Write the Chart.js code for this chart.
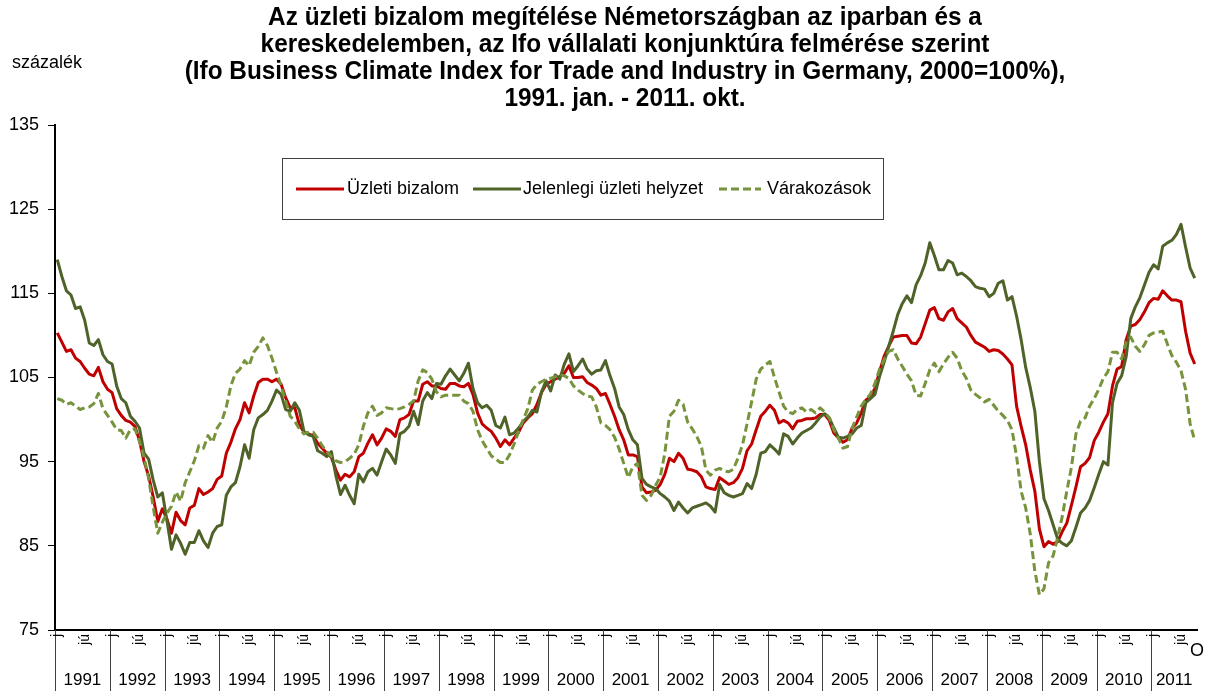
<!DOCTYPE html>
<html lang="hu">
<head>
<meta charset="UTF-8">
<title>Ifo üzleti bizalom</title>
<script src="https://cdn.jsdelivr.net/npm/chart.js"></script>
<style>
  body { margin: 0; background: #fff; }
  #wrap { width: 1208px; height: 691px; }
</style>
</head>
<body>
<div id="wrap"><canvas id="chart" width="1208" height="691"></canvas></div>
<script>
const years = ['1991','1992','1993','1994','1995','1996','1997','1998','1999','2000',
               '2001','2002','2003','2004','2005','2006','2007','2008','2009','2010','2011'];
const monthsInYear = [12,12,12,12,12,12,12,12,12,12,12,12,12,12,12,12,12,12,12,12,10];
const monthTags = ['j','','','','','','jú','','','','',''];
const lastTag = 'o';
const titleLines = [
  'Az üzleti bizalom megítélése Németországban az iparban és a',
  'kereskedelemben, az Ifo vállalati konjunktúra felmérése szerint',
  '(Ifo Business Climate Index for Trade and Industry in Germany, 2000=100%),',
  '1991. jan. - 2011. okt.'
];
const unitLabel = 'százalék';
const seriesNames = ['Üzleti bizalom', 'Jelenlegi üzleti helyzet', 'Várakozások'];
const seriesColors = ['#C00000', '#4F6228', '#77933C'];

// Üzleti bizalom (üzleti klíma)
const bizalom = [
  110.3,109.2,108.1,108.3,107.3,106.9,106.1,105.4,105.2,106.2,104.5,103.6,
  103.2,101.3,100.5,99.9,99.7,99.2,97.5,95.0,93.3,90.8,87.9,89.4,
  88.2,86.5,89.0,88.0,87.5,89.5,89.8,91.8,91.1,91.4,91.8,92.9,
  93.3,96.0,97.3,98.9,100.0,102.0,100.8,102.8,104.4,104.8,104.8,104.5,
  104.8,104.2,102.6,101.4,101.4,99.4,98.5,98.3,98.1,97.2,96.6,96.0,
  95.5,94.0,92.8,93.5,93.2,93.8,95.6,96.0,97.2,98.2,97.0,97.8,
  98.9,98.6,98.0,100.0,100.2,100.6,102.2,102.2,104.2,104.5,104.0,104.0,
  103.7,103.6,104.3,104.3,104.0,103.9,104.3,103.0,100.8,99.5,99.0,98.6,
  97.8,96.8,97.6,97.0,97.8,98.5,99.6,100.2,100.7,101.8,103.2,104.2,
  104.5,104.8,105.1,105.5,106.4,105.0,105.0,105.1,104.4,104.1,103.7,102.9,
  103.1,101.8,100.4,98.8,97.6,95.8,95.8,95.6,92.0,91.3,91.4,91.6,
  92.3,93.5,95.4,95.0,96.0,95.4,94.1,94.0,93.8,93.2,92.0,91.8,
  91.7,93.1,92.7,92.3,92.5,93.1,94.2,96.3,97.1,98.8,100.4,101.0,
  101.7,101.1,99.6,99.9,99.6,98.9,99.8,99.9,100.1,100.1,100.2,100.6,
  100.6,99.9,98.4,97.8,97.3,97.6,99.0,99.6,100.8,102.3,102.7,103.7,
  105.7,107.5,108.7,109.8,109.9,110.0,110.0,109.1,109.0,109.8,111.4,113.0,
  113.3,112.0,111.8,112.8,113.2,112.0,111.5,111.0,110.0,109.2,108.9,108.6,
  108.1,108.3,108.2,107.8,107.2,106.5,101.6,99.2,97.0,94.0,91.5,87.0,
  84.9,85.5,85.2,85.5,86.7,87.7,89.8,92.0,94.4,94.8,95.5,97.5,
  98.5,99.7,100.7,104.0,106.0,106.3,109.5,111.1,111.3,111.9,112.8,113.9,
  114.4,114.3,115.3,114.7,114.2,114.2,114.0,110.5,107.9,106.6
];
// Jelenlegi üzleti helyzet
const helyzet = [
  119.0,117.0,115.3,114.8,113.2,113.4,111.8,109.1,108.8,109.5,107.7,106.9,
  106.6,104.0,102.5,102.0,100.4,99.8,99.0,96.0,95.3,92.8,90.8,91.3,
  88.0,84.6,86.3,85.3,84.0,85.4,85.4,86.8,85.6,84.8,86.5,87.3,
  87.5,91.0,92.0,92.5,94.4,97.0,95.4,98.8,100.2,100.6,101.1,102.2,
  103.5,103.0,101.2,101.0,102.0,101.1,98.6,98.2,98.0,96.3,96.0,95.6,
  96.2,93.3,91.1,92.2,91.0,90.0,93.5,92.6,93.8,94.2,93.4,95.0,
  96.5,95.8,94.8,98.3,98.6,99.2,101.0,99.4,102.2,103.2,102.5,104.3,
  104.2,105.2,106.0,105.3,104.6,105.5,106.7,103.7,102.0,101.4,101.7,101.1,
  99.3,99.0,100.3,98.2,98.4,99.0,99.8,100.3,101.1,100.9,103.3,104.6,
  103.4,105.3,104.8,106.6,107.8,105.7,106.4,107.2,106.0,105.4,105.8,105.9,
  107.0,105.2,103.7,101.5,100.6,98.8,97.6,97.0,93.0,92.3,92.0,91.8,
  91.2,90.8,90.3,89.2,90.2,89.5,88.9,89.5,89.7,89.9,90.1,89.7,
  89.0,92.3,91.3,91.0,90.8,91.0,91.2,92.4,91.8,93.5,96.0,96.2,
  97.0,96.5,95.9,98.3,98.0,97.1,97.8,98.4,98.7,99.0,99.6,100.3,
  100.7,100.2,99.0,97.9,97.8,98.0,98.3,99.0,99.3,102.0,102.5,103.0,
  105.1,106.8,108.7,110.5,112.5,113.8,114.7,113.9,116.0,117.1,118.6,121.0,
  119.5,117.8,117.8,118.9,118.6,117.2,117.4,117.0,116.5,115.8,115.6,115.5,
  114.6,115.0,116.2,116.5,114.2,114.6,112.3,109.5,106.2,103.8,101.0,95.0,
  90.6,89.2,87.5,85.8,85.3,85.0,85.6,87.2,88.9,89.5,90.4,91.9,
  93.5,95.0,94.6,102.0,104.3,105.2,107.5,112.0,113.4,114.5,116.0,117.5,
  118.4,117.9,120.6,121.0,121.3,122.0,123.2,120.5,118.0,116.8
];
// Várakozások
const varakozas = [
  102.5,102.3,101.8,102.0,101.6,101.2,101.4,101.5,101.9,103.1,101.3,100.5,
  99.7,98.8,98.7,97.8,98.8,98.9,97.4,95.5,93.0,89.6,86.5,87.8,
  88.9,89.7,91.4,90.3,92.5,93.8,95.1,96.9,96.6,98.1,97.3,99.0,
  99.8,101.5,104.0,105.5,106.0,107.0,106.4,108.0,108.7,109.7,108.8,107.3,
  105.6,104.0,102.2,100.4,99.8,98.9,98.3,98.5,98.5,97.8,96.9,96.2,
  95.6,95.1,94.9,95.0,95.4,95.9,97.0,99.2,100.8,101.6,100.5,100.8,
  101.4,101.3,101.2,101.3,101.5,101.8,102.2,104.6,105.9,105.6,104.8,103.3,
  102.7,102.9,102.9,102.9,102.9,102.2,101.9,101.0,98.8,97.5,96.6,95.7,
  95.3,94.9,94.9,95.8,97.1,98.6,100.0,101.3,103.5,104.2,104.5,104.8,
  104.9,105.1,105.3,105.2,104.9,104.0,103.5,103.1,102.8,102.7,101.5,99.6,
  99.3,98.8,97.9,96.5,94.8,93.1,94.4,94.8,91.0,90.4,91.0,92.2,
  93.2,96.0,100.4,101.0,102.3,101.8,99.7,98.9,98.0,96.8,94.0,93.4,
  94.0,94.2,93.9,93.8,94.1,95.4,97.0,99.5,102.1,104.8,106.0,106.5,
  106.9,105.0,103.3,101.6,100.9,100.7,101.2,101.4,100.9,101.2,100.8,101.4,
  100.9,100.2,98.8,97.8,96.6,96.8,99.0,100.3,101.6,102.4,103.0,104.3,
  106.0,107.1,108.1,108.3,107.2,106.3,105.4,104.6,102.9,102.8,104.3,105.9,
  106.7,105.7,106.6,107.4,108.0,107.3,105.8,104.9,103.5,103.0,102.6,102.1,
  102.4,101.7,101.0,100.5,99.9,98.8,95.6,91.5,89.5,86.4,82.0,79.2,
  79.9,83.0,83.8,86.0,88.5,91.5,94.3,98.3,99.8,100.2,101.6,102.5,
  103.6,104.9,105.7,108.0,108.0,107.2,109.2,109.8,108.7,108.1,108.9,110.0,
  110.3,110.4,110.5,109.0,107.6,106.8,105.8,103.6,99.5,97.5
];

// havi kategóriák
const labels = [];
years.forEach((y, k) => {
  for (let m = 1; m <= monthsInYear[k]; m++) labels.push(y + '.' + String(m).padStart(2, '0'));
});

const FONT = '"Liberation Sans", Arial, sans-serif';

const decor = {
  id: 'decor',
  afterDraw(chart) {
    const ctx = chart.ctx;
    const xs = chart.scales.x;
    const top = chart.chartArea.bottom;
    const step = (xs.right - xs.left) / labels.length;
    ctx.save();
    ctx.fillStyle = '#000';

    // cím (kissé keskenyített betűkkel)
    ctx.font = 'bold 25px ' + FONT;
    ctx.textAlign = 'center';
    ctx.textBaseline = 'middle';
    titleLines.forEach((t, i) => {
      ctx.save();
      ctx.translate(625, 18 + i * 27);
      ctx.scale(0.975, 1);
      ctx.fillText(t, 0, 0);
      ctx.restore();
    });

    ctx.font = '18px ' + FONT;
    ctx.textAlign = 'left';
    ctx.fillText(unitLabel, 12, 63);

    // x tengely: évek, elválasztók, hónapjelek
    ctx.strokeStyle = '#404040';
    ctx.lineWidth = 1;
    let idx = 0;
    years.forEach((y, k) => {
      const x0 = xs.left + idx * step;
      const x1 = x0 + monthsInYear[k] * step;
      const xl = Math.round(x0) + 0.5;
      ctx.beginPath();
      ctx.moveTo(xl, top);
      ctx.lineTo(xl, chart.height);
      ctx.stroke();
      ctx.font = '17px ' + FONT;
      ctx.textAlign = 'center';
      ctx.textBaseline = 'middle';
      ctx.fillText(y, (x0 + x1) / 2, 680);
      ctx.font = '14px ' + FONT;
      for (let m = 0; m < monthsInYear[k]; m++) {
        if (!monthTags[m]) continue;
        ctx.save();
        ctx.translate(x0 + (m + 0.5) * step, top + 4);
        ctx.rotate(-Math.PI / 2);
        ctx.textAlign = 'right';
        ctx.fillText(monthTags[m], 0, 0);
        ctx.restore();
      }
      idx += monthsInYear[k];
    });
    ctx.font = '18px ' + FONT;
    ctx.textAlign = 'center';
    ctx.fillText(lastTag.toUpperCase(), xs.right, top + 21);

    // jelmagyarázat
    ctx.strokeStyle = '#404040';
    ctx.lineWidth = 1;
    ctx.strokeRect(282.5, 158.5, 601, 61);
    const items = [
      { x0: 296, x1: 344, tx: 347, dash: [] },
      { x0: 473, x1: 521, tx: 523, dash: [] },
      { x0: 719, x1: 761, tx: 767, dash: [8, 4] }
    ];
    ctx.font = '18px ' + FONT;
    ctx.textAlign = 'left';
    items.forEach((it, i) => {
      ctx.strokeStyle = seriesColors[i];
      ctx.lineWidth = 3;
      ctx.setLineDash(it.dash);
      ctx.beginPath();
      ctx.moveTo(it.x0, 189);
      ctx.lineTo(it.x1, 189);
      ctx.stroke();
      ctx.setLineDash([]);
      ctx.fillText(seriesNames[i], it.tx, 189);
    });
    ctx.restore();
  }
};

const datasets = [bizalom, helyzet, varakozas].map((d, i) => ({
  label: seriesNames[i],
  data: d,
  borderColor: seriesColors[i],
  backgroundColor: seriesColors[i],
  borderWidth: 3,
  borderDash: i === 2 ? [8, 4] : [],
  borderJoinStyle: 'round',
  pointRadius: 0,
  tension: 0,
  fill: false,
  order: 2 - i
}));

new Chart(document.getElementById('chart'), {
  type: 'line',
  data: { labels: labels, datasets: datasets },
  options: {
    responsive: false,
    animation: false,
    layout: { padding: { top: 125, right: 11, left: 0, bottom: 0 } },
    plugins: { legend: { display: false }, title: { display: false }, tooltip: { enabled: false } },
    scales: {
      x: {
        type: 'category',
        offset: true,
        grid: { display: false },
        border: { display: true, color: '#000', width: 2 },
        ticks: { display: false },
        afterFit(s) { s.height = 61; }
      },
      y: {
        min: 75,
        max: 135,
        ticks: { stepSize: 10, color: '#000', font: { size: 18, family: FONT }, padding: 9 },
        grid: { drawOnChartArea: false, drawTicks: true, tickLength: 7, tickColor: '#000' },
        border: { display: true, color: '#000', width: 2 },
        afterFit(s) { s.width = 55; }
      }
    }
  },
  plugins: [decor]
});
</script>
</body>
</html>
